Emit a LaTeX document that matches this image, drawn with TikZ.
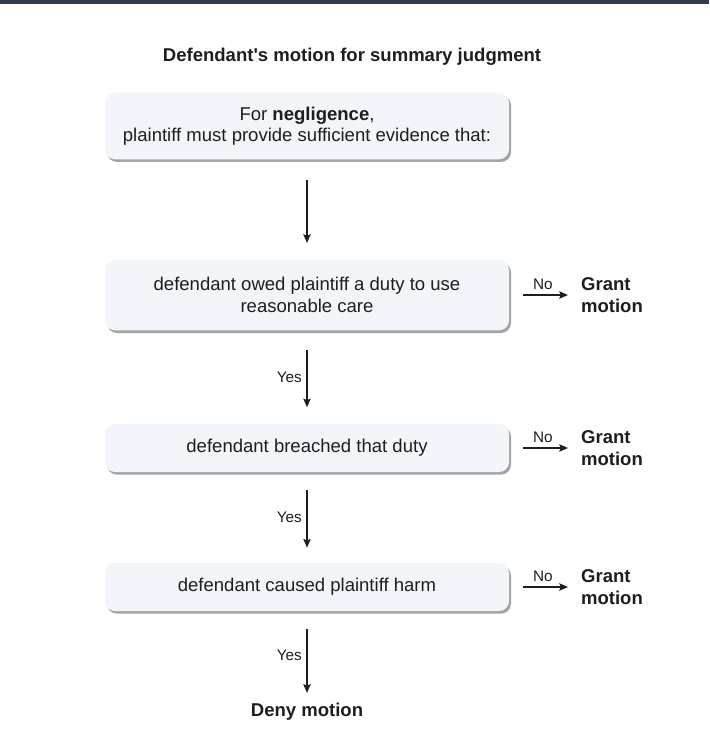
\documentclass[tikz,border=0pt]{standalone}
\usepackage{fontspec}
\setmainfont{Liberation Sans}
\usetikzlibrary{arrows.meta, positioning, shadows}
\definecolor{cbar}{HTML}{2E3E4E}
\definecolor{cfill}{HTML}{F2F5F9}
\definecolor{cink}{HTML}{1E1E1E}
\definecolor{cshadow}{HTML}{7E7E7E}
\tikzset{
  every picture/.style={line width=1pt},
  qbox/.style={fill=cfill, rounded corners=7.5pt, align=center, minimum width=303pt, text=cink, font=\fontsize{13.9}{16}\selectfont, drop shadow={shadow xshift=1.5pt, shadow yshift=-2pt, fill=cshadow, opacity=0.7}},
  outcome/.style={font=\fontsize{13.9}{16}\selectfont\bfseries, align=left, text=cink},
  tag/.style={font=\fontsize{11.5}{13}\selectfont, text=cink},
  flow/.style={-{Stealth[length=6.5pt, width=5.5pt, inset=1pt]}, draw=cink, line width=1pt},
}

\begin{document}
\begin{tikzpicture}[x=0.75pt, y=-0.75pt]
  \useasboundingbox (0,0) rectangle (709,730);
  \fill[cbar] (0,0) rectangle (709,4);
  \node[outcome] (title) at (352,57) {Defendant\textquotesingle s motion for summary judgment};
  % elements to prove
  \node[qbox, minimum height=50pt] (q0) at (307,126) {For \textbf{negligence},\\plaintiff must provide sufficient evidence that:};
  \node[qbox, minimum height=53pt] (q1) at (307,295) {defendant owed plaintiff a duty to use\\reasonable care};
  \node[qbox, minimum height=36pt] (q2) at (307,448) {defendant breached that duty};
  \node[qbox, minimum height=36pt] (q3) at (307,587) {defendant caused plaintiff harm};
  % outcomes
  \node[outcome, anchor=west] (g1) at (576,295) {Grant\\motion};
  \node[outcome, anchor=west] (g2) at (576,448) {Grant\\motion};
  \node[outcome, anchor=west] (g3) at (576,587) {Grant\\motion};
  \node[outcome] (deny) at (307,712) {Deny motion};
  % yes path
  \draw[flow, shorten <=15pt, shorten >=12pt] (q0) -- (q1);
  \draw[flow, shorten <=14pt, shorten >=12pt] (q1) -- node[tag, left] {Yes} (q2);
  \draw[flow, shorten <=13pt, shorten >=11pt] (q2) -- node[tag, left] {Yes} (q3);
  \draw[flow, shorten <=13pt, shorten >=4pt] (q3) -- node[tag, left] {Yes} (deny);
  % no branches
  \foreach \q/\g in {q1/g1, q2/g2, q3/g3}
    \draw[flow, shorten <=10pt, shorten >=6pt] (\q.east) -- node[tag, above] {No} (\g.west);
\end{tikzpicture}
\end{document}
